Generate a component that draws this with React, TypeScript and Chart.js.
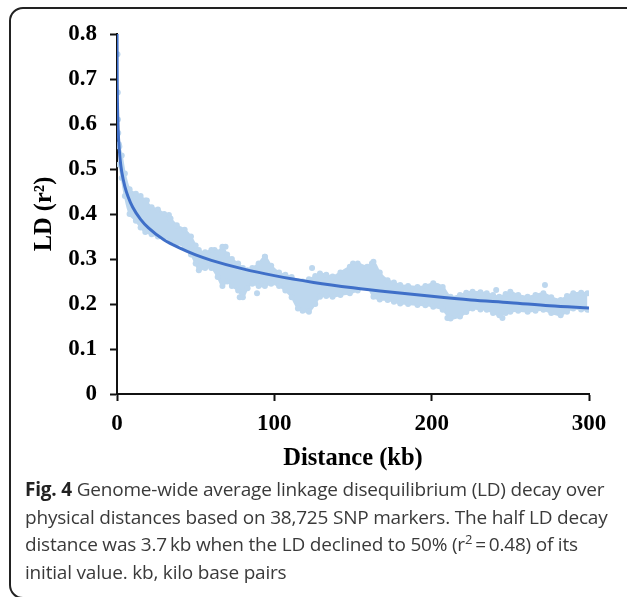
import React, { useEffect, useRef } from "react";
import { Chart, registerables } from "chart.js";

Chart.register(...registerables);

// ---- data ----
const xTickValues = [0, 100, 200, 300];
const yTickValues = [0, 0.1, 0.2, 0.3, 0.4, 0.5, 0.6, 0.7, 0.8];

// scattered LD cloud: upper / lower edge of the point cloud (kb, r2)
const cloudX = [1.5, 3, 5, 8, 12, 15, 18, 22, 26, 30, 34, 38, 43, 47, 50, 52, 56, 60, 64, 67, 70, 73, 77, 80, 83, 86, 90, 94, 98, 103, 107, 111, 115, 118, 122, 126, 129, 133, 137, 142, 148, 153, 159, 163, 167, 172, 176, 180, 185, 191, 196, 201, 207, 212, 218, 222, 226, 231, 235, 239, 243, 247, 250, 255, 261, 266, 271, 276, 282, 286, 290, 295, 299];
const cloudUpper = [0.55, 0.53, 0.49, 0.455, 0.445, 0.44, 0.43, 0.415, 0.41, 0.4, 0.39, 0.375, 0.365, 0.35, 0.33, 0.32, 0.315, 0.32, 0.315, 0.327, 0.31, 0.3, 0.29, 0.28, 0.275, 0.28, 0.29, 0.305, 0.285, 0.27, 0.265, 0.26, 0.25, 0.25, 0.255, 0.262, 0.268, 0.265, 0.261, 0.27, 0.283, 0.29, 0.283, 0.294, 0.27, 0.253, 0.248, 0.242, 0.24, 0.238, 0.24, 0.246, 0.238, 0.216, 0.22, 0.225, 0.227, 0.226, 0.224, 0.22, 0.216, 0.222, 0.227, 0.22, 0.216, 0.22, 0.224, 0.215, 0.209, 0.218, 0.224, 0.225, 0.224];
const cloudLower = [0.51, 0.48, 0.44, 0.4, 0.385, 0.37, 0.36, 0.355, 0.35, 0.35, 0.34, 0.335, 0.327, 0.31, 0.29, 0.275, 0.28, 0.28, 0.26, 0.24, 0.25, 0.24, 0.23, 0.215, 0.235, 0.245, 0.24, 0.24, 0.245, 0.24, 0.23, 0.215, 0.19, 0.185, 0.183, 0.2, 0.216, 0.218, 0.216, 0.22, 0.224, 0.23, 0.238, 0.216, 0.21, 0.209, 0.205, 0.201, 0.2, 0.198, 0.197, 0.194, 0.187, 0.168, 0.172, 0.182, 0.19, 0.188, 0.187, 0.18, 0.175, 0.18, 0.183, 0.185, 0.183, 0.185, 0.187, 0.18, 0.175, 0.183, 0.19, 0.188, 0.187];

// isolated points
const outlierX = [0.3, 0.5, 0.6, 0.8, 1.2, 19, 33, 62, 69, 78, 89, 94, 124, 150, 154, 162, 210, 241, 245, 272];
const outlierY = [0.755, 0.67, 0.61, 0.58, 0.555, 0.43, 0.398, 0.32, 0.327, 0.215, 0.224, 0.305, 0.28, 0.29, 0.284, 0.29, 0.169, 0.231, 0.169, 0.242];

// fitted decay curve
const trendX = [0.03, 0.1, 0.3, 0.5, 1, 2, 3, 5, 7, 10, 15, 20, 30, 40, 50, 60, 80, 100, 125, 150, 175, 200, 225, 250, 275, 300];
const trendY = [0.8, 0.72, 0.646, 0.613, 0.567, 0.521, 0.494, 0.461, 0.439, 0.415, 0.388, 0.369, 0.342, 0.324, 0.309, 0.297, 0.278, 0.263, 0.248, 0.236, 0.226, 0.217, 0.209, 0.203, 0.196, 0.191];

const CLOUD = "#bdd7ee";
const LINE = "#3f6fc8";

const pts = (xs: number[], ys: number[]) => xs.map((x, i) => ({ x, y: ys[i] }));

function LDChart() {
  const ref = useRef<HTMLCanvasElement | null>(null);
  useEffect(() => {
    if (!ref.current) return;
    const tickFont = { family: "'Liberation Serif', 'Times New Roman', serif", size: 23, weight: "bold" as const };
    const titleFont = { family: "'Liberation Serif', 'Times New Roman', serif", size: 24.5, weight: "bold" as const };
    const chart = new Chart(ref.current, {
      type: "line",
      data: {
        datasets: [
          {
            label: "trend",
            data: pts(trendX, trendY),
            borderColor: LINE,
            borderWidth: 3,
            pointRadius: 0,
            cubicInterpolationMode: "monotone",
            fill: false,
          },
          {
            label: "lower",
            data: pts(cloudX, cloudLower),
            borderColor: CLOUD,
            borderWidth: 2,
            backgroundColor: CLOUD,
            pointRadius: 3,
            pointBorderWidth: 0,
            pointBackgroundColor: CLOUD,
            tension: 0.3,
            fill: false,
          },
          {
            label: "upper",
            data: pts(cloudX, cloudUpper),
            borderColor: CLOUD,
            borderWidth: 2,
            backgroundColor: CLOUD,
            pointRadius: 3,
            pointBorderWidth: 0,
            pointBackgroundColor: CLOUD,
            tension: 0.3,
            fill: "-1",
          },
          {
            label: "points",
            data: pts(outlierX, outlierY),
            showLine: false,
            pointRadius: 3,
            pointBorderWidth: 0,
            pointBackgroundColor: CLOUD,
            borderColor: CLOUD,
          },
        ],
      },
      options: {
        animation: false,
        responsive: false,
        devicePixelRatio: 1,
        layout: { padding: { left: 20, top: 34, right: 38, bottom: 6 } },
        plugins: { legend: { display: false }, tooltip: { enabled: false } },
        scales: {
          x: {
            type: "linear",
            min: 0,
            max: 300,
            afterFit: (s: any) => { s.height = 80; },
            afterBuildTicks: (s: any) => { s.ticks = xTickValues.map((v) => ({ value: v })); },
            grid: { drawOnChartArea: false, drawTicks: true, tickLength: 7, tickWidth: 2, tickColor: "#111" },
            border: { display: true, color: "#111", width: 2 },
            ticks: { font: tickFont, color: "#000", padding: 9, maxRotation: 0 },
            title: { display: true, text: "Distance (kb)", font: titleFont, color: "#000", padding: { top: 0, bottom: 1 } },
          },
          y: {
            type: "linear",
            min: 0,
            max: 0.8,
            afterFit: (s: any) => { s.width = 97; },
            afterBuildTicks: (s: any) => { s.ticks = yTickValues.map((v) => ({ value: v })); },
            grid: { drawOnChartArea: false, drawTicks: true, tickLength: 7, tickWidth: 2, tickColor: "#111" },
            border: { display: true, color: "#111", width: 2 },
            ticks: {
              font: tickFont,
              color: "#000",
              padding: 13,
              callback: (v: any) => String(Math.round(Number(v) * 10) / 10),
            },
            title: { display: true, text: "LD (r²)", font: titleFont, color: "#000", padding: { top: 10, bottom: 0 } },
          },
        },
      },
    });
    return () => chart.destroy();
  }, []);
  return <canvas ref={ref} width={627} height={480} style={{ position: "absolute", left: 0, top: 0, width: 627, height: 480 }} />;
}

export default function App() {
  const lineStyle: React.CSSProperties = { whiteSpace: "nowrap", height: 27.7, lineHeight: "27.7px" };
  return (
    <div style={{ position: "fixed", left: 0, top: 0, width: 627, height: 597, overflow: "hidden", background: "#fff" }}>
      <div
        style={{
          position: "absolute",
          left: 9,
          top: 7,
          width: 640,
          height: 592,
          border: "2px solid #222",
          borderRadius: 14,
          boxSizing: "border-box",
        }}
      />
      <LDChart />
      <div
        style={{
          position: "absolute",
          left: 25,
          top: 476,
          fontFamily: "'Open Sans', 'Noto Sans', sans-serif",
          fontSize: 19,
          color: "#3a3a3a",
          letterSpacing: -0.2,
        }}
      >
        <div style={lineStyle}>
          <b style={{ color: "#222" }}>Fig. 4</b> Genome-wide average linkage disequilibrium (LD) decay over
        </div>
        <div style={lineStyle}>physical distances based on 38,725 SNP markers. The half LD decay</div>
        <div style={lineStyle}>
          distance was 3.7{"\u2009"}kb when the LD declined to 50% (r
          <span style={{ fontSize: 13, verticalAlign: "super", lineHeight: 0 }}>2</span>
          {"\u2009"}={"\u2009"}0.48) of its
        </div>
        <div style={lineStyle}>initial value. kb, kilo base pairs</div>
      </div>
    </div>
  );
}
